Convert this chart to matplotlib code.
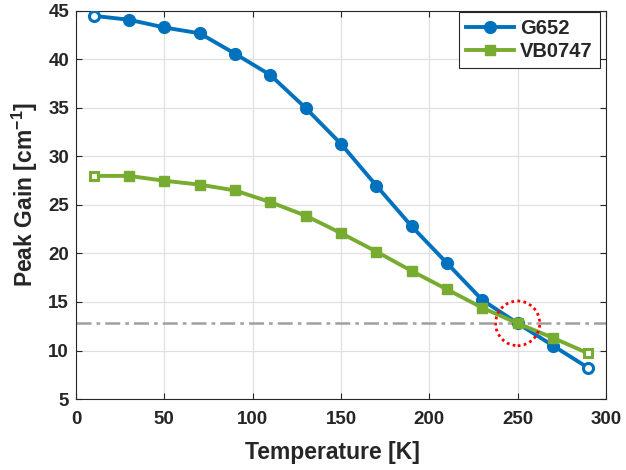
import matplotlib
matplotlib.use("Agg")
import matplotlib.pyplot as plt
from matplotlib.patches import Ellipse

temperature = [10, 30, 50, 70, 90, 110, 130, 150, 170, 190, 210, 230, 250, 270, 290]
g652 = [44.5, 44.1, 43.3, 42.7, 40.6, 38.4, 35.0, 31.3, 27.0, 22.8, 19.0, 15.2, 12.8, 10.5, 8.2]
vb0747 = [28.0, 28.0, 27.5, 27.1, 26.5, 25.3, 23.9, 22.1, 20.2, 18.2, 16.3, 14.4, 12.8, 11.3, 9.7]
threshold = 12.8
xticks = [0, 50, 100, 150, 200, 250, 300]
yticks = [5, 10, 15, 20, 25, 30, 35, 40, 45]

plt.rcParams['font.family'] = ['Liberation Sans', 'DejaVu Sans']
plt.rcParams['font.weight'] = 'bold'
plt.rcParams['mathtext.fontset'] = 'custom'
plt.rcParams['mathtext.bf'] = 'Liberation Sans:bold'
plt.rcParams['mathtext.rm'] = 'Liberation Sans:bold'

fig = plt.figure(figsize=(6.26, 4.7), dpi=100)
ax = fig.add_axes([76 / 626, 1 - 399 / 470, 530 / 626, 388 / 470])

blue = '#0072BD'
green = '#77AC30'
text_c = '#262626'

def plot_series(y, color, marker, ms, label):
    ax.plot(temperature, y, color=color, lw=2.8, marker=marker, ms=ms,
            markerfacecolor=color, markeredgecolor=color, label=label, zorder=3,
            markevery=list(range(1, len(y) - 1)))
    ax.plot([temperature[0], temperature[-1]], [y[0], y[-1]], ls='none', marker=marker,
            ms=ms * 0.85, markerfacecolor='white', markeredgecolor=color, mew=2.2, zorder=4)

ax.axhline(threshold, color='#A0A0A0', lw=1.8, ls=(0, (6, 2, 1.5, 2)), zorder=2)
plot_series(g652, blue, 'o', 8.5, 'G652')
plot_series(vb0747, green, 's', 6.5, 'VB0747')

# red dotted circle
ax.add_patch(Ellipse((250, threshold), 25.0, 4.6, fill=False, ec='#FF0000', lw=2.0,
                     ls=(0, (1, 1.2)), zorder=5))

ax.set_xlim(0, 300)
ax.set_ylim(5, 45)
ax.set_xticks(xticks)
ax.set_yticks(yticks)
ax.tick_params(direction='in', top=True, right=True, labelsize=13.5, length=4,
               color=text_c, labelcolor=text_c)
ax.tick_params(axis='x', pad=9)
ax.tick_params(axis='y', pad=5)
ax.grid(True, color='#E0E0E0', lw=0.9)
ax.set_axisbelow(True)
for s in ax.spines.values():
    s.set_color(text_c)
    s.set_linewidth(0.8)

ax.set_xlabel('Temperature [K]', fontsize=16.5, fontweight='bold', color=text_c)
ax.set_ylabel('Peak Gain [cm$^{-1}$]', fontsize=16.5, fontweight='bold', color=text_c)
ax.xaxis.set_label_coords(0.483, -0.108)
ax.yaxis.set_label_coords(-0.068, 0.527)

leg = ax.legend(loc='upper right', fontsize=14.5, frameon=True, fancybox=False,
                edgecolor=text_c, framealpha=1, borderaxespad=0.0,
                bbox_to_anchor=(1 - 6 / 530, 1 - 1 / 388),
                handlelength=2.4, handletextpad=0.3, borderpad=0.35, labelspacing=0.2)
leg.get_frame().set_linewidth(0.8)
for t in leg.get_texts():
    t.set_color(text_c)

fig.savefig('out.png', dpi=100)
